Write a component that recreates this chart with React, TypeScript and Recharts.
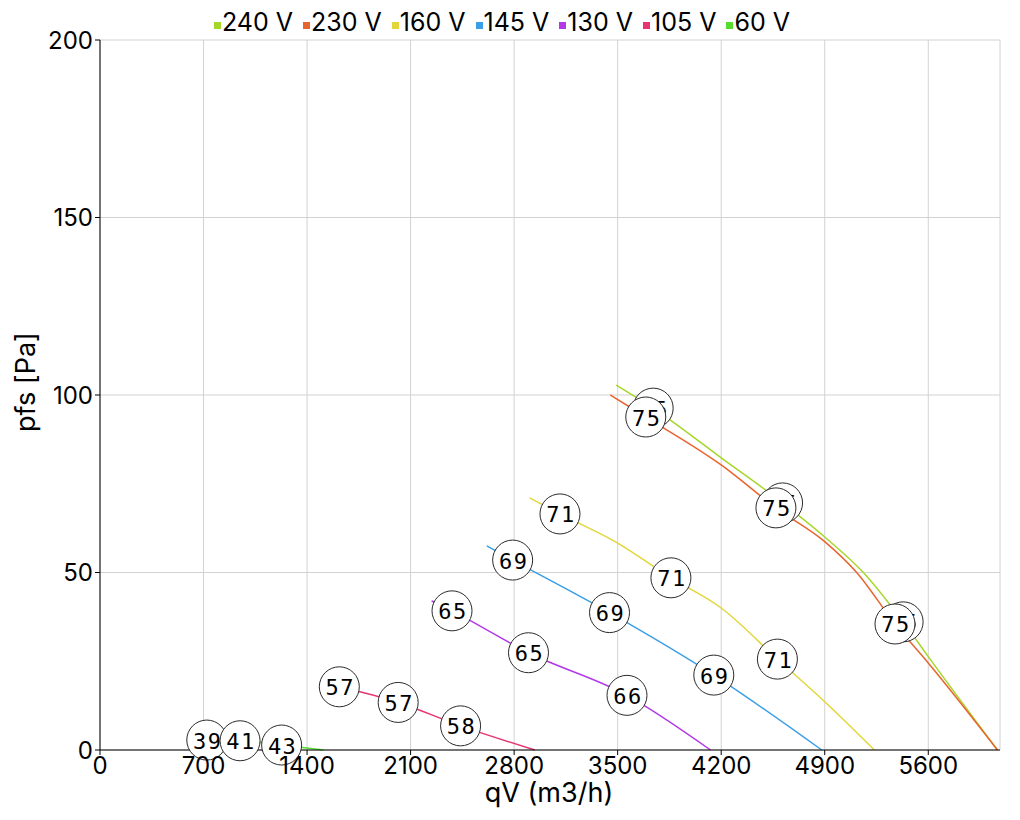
import React from "react";
import { ComposedChart, Line, Scatter, XAxis, YAxis, CartesianGrid } from "recharts";

// series meta
const NAMES = ["240 V", "230 V", "160 V", "145 V", "130 V", "105 V", "60 V"];
const COLORS = ["#a6d62a", "#e8642e", "#e2d63a", "#3a9fe6", "#b238e8", "#e8346f", "#55dc2e"];

// fan curves: qV (m3/h) and pfs (Pa)
const q240 = [3490, 3740, 4200, 4615, 4900, 5161, 5430, 5600, 6068];
const p240 = [102.8, 96.3, 82.3, 69.6, 60, 50, 36.1, 26.3, 0];
const q230 = [3450, 3690, 4200, 4570, 4900, 5116, 5375, 5600, 6068];
const p230 = [100, 93.8, 80.3, 68.2, 58.7, 50, 35.5, 24.5, 0];
const q160 = [2905, 3110, 3500, 3860, 4200, 4580, 4900, 5236];
const p160 = [71, 66.5, 58.3, 48.5, 40, 25.6, 13.6, 0];
const q145 = [2615, 2790, 3445, 4150, 4880];
const p145 = [57.5, 53.5, 38.7, 21.1, 0];
const q130 = [2242, 2380, 2897, 3563, 4128];
const p130 = [42, 39.2, 27.4, 15.4, 0];
const q105 = [1618, 2016, 2438, 2940];
const p105 = [17.8, 13.4, 6.8, 0];
const q60 = [722, 947, 1228, 1510];
const p60 = [2.8, 2.6, 1.4, 0];

// sound level markers (dB)
const lq240 = [3740, 4615, 5430];
const lp240 = [96.3, 69.6, 36.1];
const ld240 = [75, 75, 75];
const lq230 = [3690, 4570, 5375];
const lp230 = [93.8, 68.2, 35.5];
const ld230 = [75, 75, 75];
const lq160 = [3110, 3860, 4580];
const lp160 = [66.5, 48.5, 25.6];
const ld160 = [71, 71, 71];
const lq145 = [2790, 3445, 4150];
const lp145 = [53.5, 38.7, 21.1];
const ld145 = [69, 69, 69];
const lq130 = [2380, 2897, 3563];
const lp130 = [39.2, 27.4, 15.4];
const ld130 = [65, 65, 66];
const lq105 = [1618, 2016, 2438];
const lp105 = [17.8, 13.4, 6.8];
const ld105 = [57, 57, 58];
const lq60 = [722, 947, 1228];
const lp60 = [2.8, 2.6, 1.4];
const ld60 = [39, 41, 43];

const X_TICKS = [0, 700, 1400, 2100, 2800, 3500, 4200, 4900, 5600];
const Y_TICKS = [0, 50, 100, 150, 200];

const toRows = (q: number[], p: number[]) => q.map((v, i) => ({ q: v, p: p[i] }));
const toLabels = (q: number[], p: number[], d: number[]) => q.map((v, i) => ({ q: v, p: p[i], db: d[i] }));

const curves = [
  toRows(q240, p240),
  toRows(q230, p230),
  toRows(q160, p160),
  toRows(q145, p145),
  toRows(q130, p130),
  toRows(q105, p105),
  toRows(q60, p60),
];
const markers = [
  toLabels(lq240, lp240, ld240),
  toLabels(lq230, lp230, ld230),
  toLabels(lq160, lp160, ld160),
  toLabels(lq145, lp145, ld145),
  toLabels(lq130, lp130, ld130),
  toLabels(lq105, lp105, ld105),
  toLabels(lq60, lp60, ld60),
];

const FONT = "Inter, sans-serif";

const Bubble = (props: any) => {
  const { cx, cy, payload } = props;
  return (
    <g>
      <circle cx={cx} cy={cy} r={20} fill="#fff" stroke="#2a2a2a" strokeWidth={1} />
      <text
        x={cx + 1}
        y={cy + 1}
        textAnchor="middle"
        dominantBaseline="central"
        fontFamily="'DejaVu Sans Mono', monospace"
        fontSize={22}
        letterSpacing={1.5}
        fill="#000"
      >
        {payload.db}
      </text>
    </g>
  );
};

export default function App() {
  return (
    <div style={{ position: "absolute", left: 0, top: 0, width: 1020, height: 820, background: "#fff" }}>
      {/* legend */}
      <div
        style={{
          position: "absolute",
          left: 214,
          top: 7,
          display: "flex",
          fontFamily: FONT,
          fontSize: 25,
          lineHeight: "30px",
          color: "#000",
          whiteSpace: "nowrap",
        }}
      >
        {NAMES.map((n, i) => (
          <div key={n} style={{ display: "flex", alignItems: "center", marginRight: 10 }}>
            <span style={{ width: 7, height: 7, background: COLORS[i], marginRight: 1, marginTop: 7 }} />
            <span>{n}</span>
          </div>
        ))}
      </div>

      <ComposedChart width={1020} height={820} margin={{ top: 40, right: 20, bottom: 0, left: 0 }}>
        <CartesianGrid stroke="#d2d2d2" />
        <XAxis
          dataKey="q"
          type="number"
          domain={[0, 6085]}
          ticks={X_TICKS}
          interval={0}
          height={70}
          tickSize={5}
          stroke="#000"
          tick={{ fill: "#000", fontSize: 24, fontFamily: FONT }}
          allowDataOverflow
        />
        <XAxis xAxisId="top" orientation="top" type="number" domain={[0, 6085]} height={0} tick={false} tickLine={false} stroke="#000" />
        <YAxis
          type="number"
          domain={[0, 200]}
          ticks={Y_TICKS}
          interval={0}
          width={100}
          tickSize={5}
          stroke="#000"
          tick={{ fill: "#000", fontSize: 24, fontFamily: FONT }}
        />
        <YAxis yAxisId="right" orientation="right" domain={[0, 200]} width={0} tick={false} tickLine={false} stroke="#000" />

        {curves.map((d, i) => (
          <Line
            key={NAMES[i]}
            data={d}
            dataKey="p"
            type="monotone"
            stroke={COLORS[i]}
            strokeWidth={1.5}
            dot={false}
            activeDot={false}
            isAnimationActive={false}
          />
        ))}
        {markers.map((d, i) => (
          <Scatter key={"m" + NAMES[i]} data={d} dataKey="p" shape={<Bubble />} isAnimationActive={false} />
        ))}
      </ComposedChart>

      {/* axis titles */}
      <svg width={1020} height={820} style={{ position: "absolute", left: 0, top: 0, pointerEvents: "none" }}>
        <text x={549} y={802} textAnchor="middle" fontFamily={FONT} fontSize={27} fill="#000">
          qV (m3/h)
        </text>
        <text x={35} y={382} transform="rotate(-90 35 382)" textAnchor="middle" fontFamily={FONT} fontSize={27} fill="#000">
          pfs [Pa]
        </text>
      </svg>
    </div>
  );
}
